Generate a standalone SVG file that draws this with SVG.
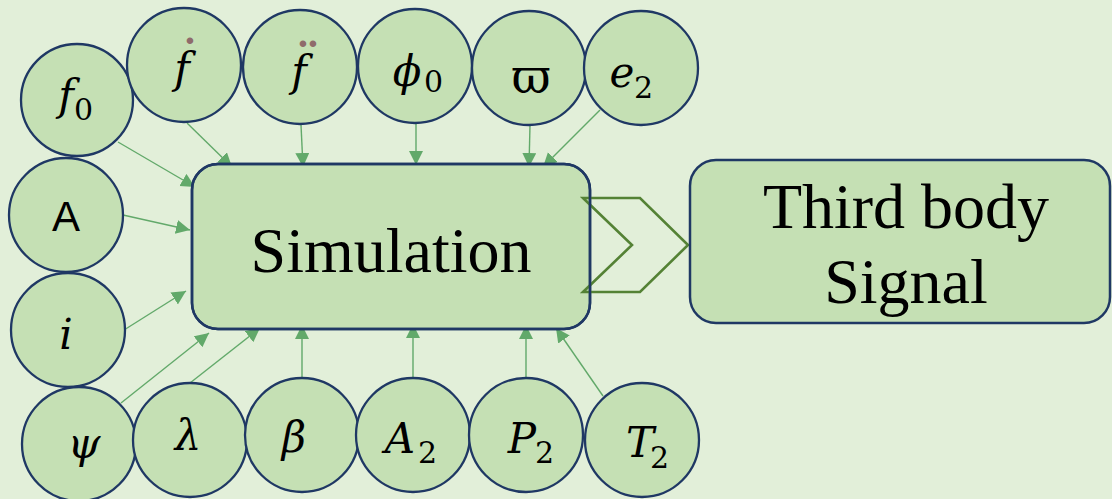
<svg xmlns="http://www.w3.org/2000/svg" width="1112" height="499" viewBox="0 0 1112 499">
<style>
.bg{fill:#e2efd9}
.node circle{fill:#c5e0b4;stroke:#1f3864;stroke-width:2.3}
.box{fill:#c5e0b4;stroke:#1f3864;stroke-width:2.5}
.edge{fill:none;stroke:#1f3864;stroke-width:2.5}
.m{font-family:"DejaVu Serif","Liberation Serif",serif;font-style:italic;font-size:42px;fill:#000;text-anchor:middle}
.s{font-style:normal;font-size:30px;text-anchor:start}
.u{font-family:"DejaVu Serif","Liberation Serif",serif;font-style:normal;font-size:48px;fill:#000;text-anchor:middle}
.sans{font-family:"Liberation Sans",Arial,sans-serif;font-size:42px;fill:#000}
.big{font-family:"Liberation Serif","Times New Roman",serif;font-size:64px;fill:#000}
.dot{font-family:"Liberation Sans",Arial,sans-serif;font-style:normal;font-size:24px;fill:#8f6b6b;text-anchor:middle}
#connectors line{stroke:#62a96a;stroke-width:1.4;marker-end:url(#ah)}
</style>
<defs>
<marker id="ah" markerUnits="userSpaceOnUse" markerWidth="16" markerHeight="16" refX="14" refY="7" orient="auto">
<path d="M0,0 L14,7 L0,14 z" fill="#62a96a"/>
</marker>
</defs>
<rect class="bg" x="0" y="0" width="1112" height="499"/>

<g id="connectors">
<line x1="118" y1="142" x2="195" y2="187"/>
<line x1="187" y1="123" x2="232" y2="167"/>
<line x1="301" y1="125" x2="303" y2="167"/>
<line x1="416" y1="124" x2="416" y2="165"/>
<line x1="530" y1="125" x2="529" y2="167"/>
<line x1="600" y1="110" x2="543" y2="167"/>
<line x1="123" y1="215" x2="190" y2="230"/>
<line x1="124" y1="330" x2="186" y2="291"/>
<line x1="121" y1="403" x2="209" y2="333"/>
<line x1="190" y1="383" x2="260" y2="328"/>
<line x1="302" y1="377" x2="302" y2="325"/>
<line x1="413" y1="377" x2="413" y2="324"/>
<line x1="526" y1="377" x2="526" y2="325"/>
<line x1="603" y1="396" x2="556" y2="328"/>
</g>

<g id="simulation">
<rect class="box" x="192" y="164" width="398" height="165" rx="26"/>
<text class="big" x="391" y="272" text-anchor="middle">Simulation</text>
</g>

<g id="arrow-out">
<path d="M583,198 L640,198 L688,245 L640,292 L583,292 L632,245 Z" fill="none" stroke="#548235" stroke-width="2.6"/>
<rect class="edge" x="192" y="164" width="398" height="165" rx="26"/>
</g>

<g id="third-body">
<rect class="box" x="690" y="160" width="420" height="163" rx="26"/>
<text class="big" x="906" y="228" text-anchor="middle">Third body</text>
<text class="big" x="906" y="303" text-anchor="middle">Signal</text>
</g>

<g id="n-f0" class="node"><circle cx="77" cy="100" r="56"/>
<text class="m"><tspan x="66" y="110">f</tspan><tspan class="s" x="74" y="120">0</tspan></text></g>
<g id="n-fdot" class="node"><circle cx="184" cy="65" r="57"/>
<text class="m"><tspan x="182" y="83">f</tspan><tspan class="dot" x="190" y="49">•</tspan></text></g>
<g id="n-fddot" class="node"><circle cx="300" cy="67" r="57"/>
<text class="m"><tspan x="299" y="86">f</tspan><tspan class="dot" x="303" y="52">•</tspan><tspan class="dot" x="313" y="52">•</tspan></text></g>
<g id="n-phi0" class="node"><circle cx="415" cy="66" r="57"/>
<text class="m"><tspan x="407" y="86">ϕ</tspan><tspan class="s" x="424" y="92">0</tspan></text></g>
<g id="n-varpi" class="node"><circle cx="529" cy="68" r="57"/>
<text class="u" x="531" y="93">ϖ</text></g>
<g id="n-e2" class="node"><circle cx="641" cy="68" r="57"/>
<text class="m"><tspan x="622" y="87">e</tspan><tspan class="s" x="634" y="98">2</tspan></text></g>
<g id="n-A" class="node"><circle cx="66" cy="215" r="57"/>
<text class="sans" x="66" y="231" text-anchor="middle">A</text></g>
<g id="n-i" class="node"><circle cx="68" cy="330" r="57"/>
<text class="m" x="66" y="349">i</text></g>
<g id="n-psi" class="node"><circle cx="79" cy="444" r="57"/>
<text class="m" x="84" y="458">ψ</text></g>
<g id="n-lambda" class="node"><circle cx="190" cy="440" r="57"/>
<text class="m" x="188" y="450">λ</text></g>
<g id="n-beta" class="node"><circle cx="302" cy="435" r="57"/>
<text class="m" x="294" y="452">β</text></g>
<g id="n-A2" class="node"><circle cx="413" cy="435" r="57"/>
<text class="m"><tspan x="400" y="453">A</tspan><tspan class="s" x="418" y="463">2</tspan></text></g>
<g id="n-P2" class="node"><circle cx="526" cy="435" r="57"/>
<text class="m"><tspan x="522" y="453">P</tspan><tspan class="s" x="535" y="463">2</tspan></text></g>
<g id="n-T2" class="node"><circle cx="642" cy="440" r="57"/>
<text class="m"><tspan x="640" y="457">T</tspan><tspan class="s" x="650" y="468">2</tspan></text></g>
</svg>
